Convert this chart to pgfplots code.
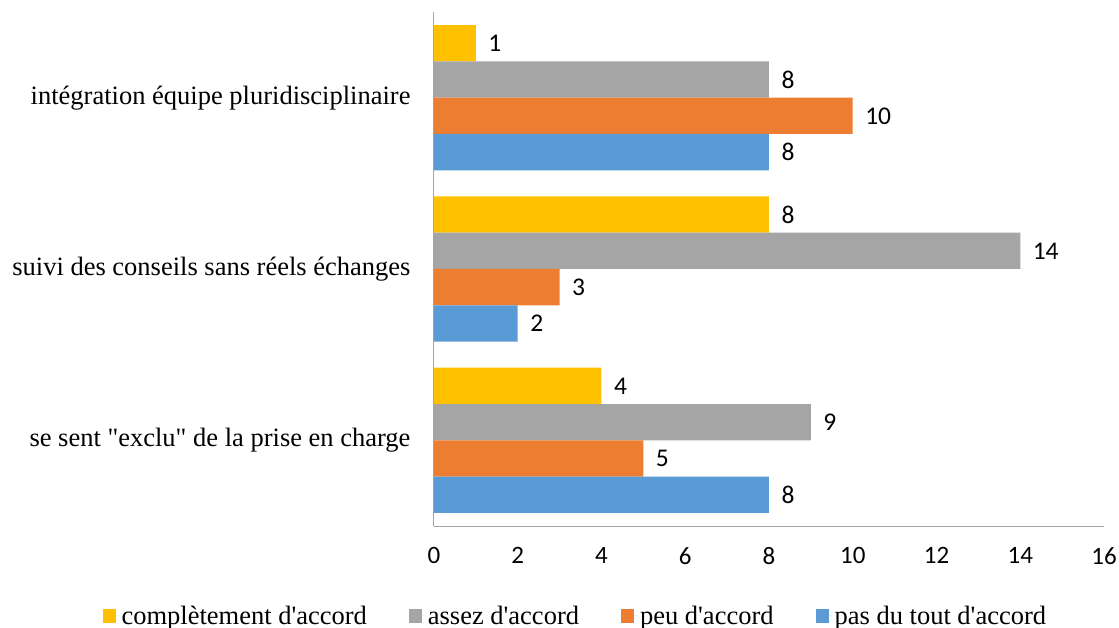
\documentclass[border=0pt]{standalone}
\usepackage{pgfplots}
\pgfplotsset{compat=1.18}
\usepackage{fontspec}
\setmainfont{Liberation Serif}[Ligatures=TeXOff]
\newfontfamily\calibri{Carlito}

\definecolor{cYellow}{HTML}{FFC000}
\definecolor{cGray}{HTML}{A5A5A5}
\definecolor{cOrange}{HTML}{ED7D31}
\definecolor{cBlue}{HTML}{5B9BD5}
\definecolor{axisgray}{HTML}{A6A6A6}

\begin{document}
\begin{tikzpicture}
\useasboundingbox (-434bp,-102bp) rectangle (685bp,526bp);
\begin{axis}[
  scale only axis,
  width=670bp, height=514bp,
  xbar, bar width=0.212,
  xmin=0, xmax=16,
  ymin=-0.5, ymax=2.5,
  xtick={0,2,...,16},
  ytick={0,1,2},
  yticklabels={se sent "exclu" de la prise en charge,
               suivi des conseils sans réels échanges,
               intégration équipe pluridisciplinaire},
  axis x line*=bottom, axis y line*=left,
  axis line style={draw=axisgray, line width=1bp, -},
  major tick length=0pt,
  xticklabel style={font=\calibri\fontsize{25bp}{30bp}\selectfont, anchor=north, yshift=-18bp},
  yticklabel style={font=\fontsize{26.5bp}{31bp}\selectfont, anchor=east, xshift=-20bp},
  /pgf/number format/assume math mode=true,
  nodes near coords,
  every node near coord/.append style={font=\calibri\fontsize{25.5bp}{30bp}\selectfont, anchor=west, xshift=9bp, text=black},
  legend style={draw=none, fill=none, at={(0.211,-0.175)}, anchor=center,
    legend columns=4, font=\fontsize{26.5bp}{31bp}\selectfont,
    /tikz/every even column/.append style={column sep=40bp}},
  legend cell align=left,
  legend image code/.code={\fill[#1,draw=none] (0bp,-7bp) rectangle (13bp,7bp); \path (0bp,0bp) -- (17bp,0bp);},
]
\addplot[fill=cYellow, draw=none, bar shift=0.318] coordinates {(4,0) (8,1) (1,2)};
\addlegendentry{complètement d'accord}
\addplot[fill=cGray, draw=none, bar shift=0.106] coordinates {(9,0) (14,1) (8,2)};
\addlegendentry{assez d'accord}
\addplot[fill=cOrange, draw=none, bar shift=-0.106] coordinates {(5,0) (3,1) (10,2)};
\addlegendentry{peu d'accord}
\addplot[fill=cBlue, draw=none, bar shift=-0.318] coordinates {(8,0) (2,1) (8,2)};
\addlegendentry{pas du tout d'accord}
\end{axis}
\end{tikzpicture}
\end{document}
